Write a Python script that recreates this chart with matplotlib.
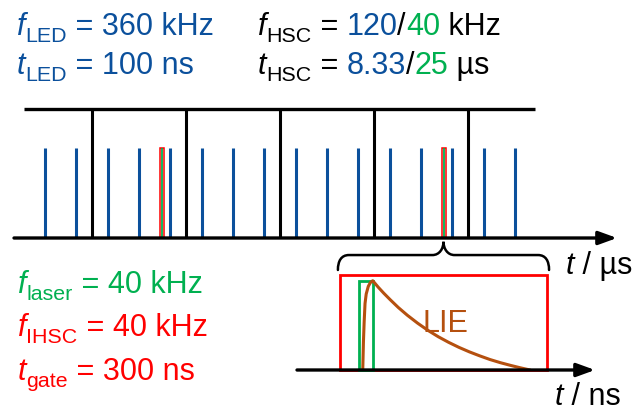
import matplotlib
matplotlib.use("Agg")
from matplotlib import pyplot as plt
from matplotlib.patches import Rectangle, PathPatch
from matplotlib.path import Path

plt.rcParams['font.family'] = ['Liberation Sans', 'DejaVu Sans']

BLUE = '#0B509C'
GREEN = '#00B050'
RED = '#FF0000'
BROWN = '#B5500F'

# time line in µs
hsc_frames = [0.0, 8.33, 16.67, 25.0, 33.33]
led_pulses = [-4.17, -1.39, 1.39, 4.17, 6.94, 9.72, 12.5, 15.28, 18.06,
              20.83, 23.61, 26.39, 29.17, 31.94, 34.72, 37.5]
laser_pulses = [6.2, 31.2]
t_gate_us = 0.3

# zoom on one gate, in ns
gate_ns = [0, 300]
laser_ns = [27.5, 47.8]
lie_t = [33, 34, 35, 36.3, 38, 41, 44, 47.5, 55.5, 63.5, 72.5, 84.5, 97.5,
         112.5, 127.5, 142.5, 157.5, 172.5, 187.5, 202.5, 217.5, 232.5,
         247.5, 261.5, 275.5]
lie_y = [0, 0.3, 0.5, 0.7, 0.8, 0.88, 0.92, 0.94, 0.871, 0.808, 0.742, 0.658,
         0.577, 0.493, 0.417, 0.350, 0.291, 0.238, 0.191, 0.149, 0.110, 0.077,
         0.048, 0.023, 0.0]

W, H = 644, 411
fig = plt.figure(figsize=(W / 100, H / 100), dpi=100)


def arrow(ax, x0, x1, lw=2.4):
    ax.annotate('', xy=(x1, 0), xytext=(x0, 0), annotation_clip=False,
                arrowprops=dict(arrowstyle='-|>,head_length=0.55,head_width=0.2',
                                lw=lw, color='black', mutation_scale=20,
                                shrinkA=0, shrinkB=0), zorder=5)


# --- upper timeline ---
ax = fig.add_axes([14 / W, 1 - 238 / H, 603 / W, 129 / H])
ax.set_xlim(-6.92, 46.54)
ax.set_ylim(0, 1)
ax.axis('off')
pulse_h = 0.70
ax.vlines(led_pulses, 0, pulse_h, color=BLUE, lw=2.2)
ax.vlines(hsc_frames, 0, 1, color='black', lw=2.2, clip_on=False)
ax.hlines(1, -6.03, 39.27, color='black', lw=2.4, clip_on=False)
for t in laser_pulses:
    ax.add_patch(Rectangle((t - t_gate_us / 2, 0), t_gate_us, pulse_h,
                           fill=False, ec=RED, lw=1.1))
    ax.vlines(t, 0, pulse_h, color=GREEN, lw=1.3)
arrow(ax, -6.92, 46.54)

# --- zoomed gate ---
bx = fig.add_axes([297 / W, 1 - 370 / H, 298 / W, 95 / H])
bx.set_xlim(-62.3, 369.6)
bx.set_ylim(0, 1)
bx.axis('off')
bx.add_patch(Rectangle((gate_ns[0], 0), gate_ns[1] - gate_ns[0], 1,
                       fill=False, ec=RED, lw=2.0, clip_on=False))
bx.add_patch(Rectangle((laser_ns[0], 0), laser_ns[1] - laser_ns[0], 0.94,
                       fill=False, ec=GREEN, lw=2.0, clip_on=False))
bx.plot(lie_t, lie_y, color=BROWN, lw=2.2, solid_capstyle='round',
        solid_joinstyle='round')
arrow(bx, -62.3, 369.6)


def brace(ax, x0, x1, y_end, y_mid, y_tip, r):
    xm = (x0 + x1) / 2
    verts = [(x0, y_end), (x0, y_mid - 0.4 * (y_mid - y_end)), (x0 + 0.3 * r, y_mid), (x0 + r, y_mid),
             (xm - r, y_mid),
             (xm - 0.35 * r, y_mid), (xm, y_tip - 0.5 * (y_tip - y_mid)), (xm, y_tip),
             (xm, y_tip - 0.5 * (y_tip - y_mid)), (xm + 0.35 * r, y_mid), (xm + r, y_mid),
             (x1 - r, y_mid),
             (x1 - 0.3 * r, y_mid), (x1, y_mid - 0.4 * (y_mid - y_end)), (x1, y_end)]
    codes = [Path.MOVETO, Path.CURVE4, Path.CURVE4, Path.CURVE4,
             Path.LINETO,
             Path.CURVE4, Path.CURVE4, Path.CURVE4,
             Path.CURVE4, Path.CURVE4, Path.CURVE4,
             Path.LINETO,
             Path.CURVE4, Path.CURVE4, Path.CURVE4]
    ax.add_patch(PathPatch(Path(verts, codes), fill=False, ec='black',
                           lw=1.8, clip_on=False, capstyle='round'))


brace(bx, gate_ns[0] - 3, gate_ns[1] + 3, 1.053, 1.21, 1.35, 16)

# --- labels (pixel coordinates) ---
ov = fig.add_axes([0, 0, 1, 1], zorder=10)
ov.set_xlim(0, W)
ov.set_ylim(H, 0)
ov.axis('off')
ov.patch.set_alpha(0)
renderer = fig.canvas.get_renderer()
SIZE = 22


def write(x, y, parts, size=SIZE):
    for s, color, kind in parts:
        if kind == 'sub':
            t = ov.text(x, y + 7, s, color=color, fontsize=size * 0.7,
                        va='baseline', ha='left')
        elif kind == 'it':
            t = ov.text(x, y, s, color=color, fontsize=size, style='italic',
                        va='baseline', ha='left')
        else:
            t = ov.text(x, y, s, color=color, fontsize=size,
                        va='baseline', ha='left')
        x += t.get_window_extent(renderer).width


write(17, 35, [('f', BLUE, 'it'), ('LED', BLUE, 'sub'), (' = 360 kHz', BLUE, 'rm')])
write(17, 74, [('t', BLUE, 'it'), ('LED', BLUE, 'sub'), (' = 100 ns', BLUE, 'rm')])
write(258, 35, [('f', 'black', 'it'), ('HSC', 'black', 'sub'), (' = ', 'black', 'rm'),
                ('120', BLUE, 'rm'), ('/', 'black', 'rm'), ('40', GREEN, 'rm'),
                (' kHz', 'black', 'rm')])
write(258, 74, [('t', 'black', 'it'), ('HSC', 'black', 'sub'), (' = ', 'black', 'rm'),
                ('8.33', BLUE, 'rm'), ('/', 'black', 'rm'), ('25', GREEN, 'rm'),
                (' µs', 'black', 'rm')])
write(18, 293, [('f', GREEN, 'it'), ('laser', GREEN, 'sub'), (' = 40 kHz', GREEN, 'rm')])
write(18, 336, [('f', RED, 'it'), ('IHSC', RED, 'sub'), (' = 40 kHz', RED, 'rm')])
write(18, 380, [('t', RED, 'it'), ('gate', RED, 'sub'), (' = 300 ns', RED, 'rm')])
write(423, 332, [('LIE', BROWN, 'rm')])
write(566, 274, [('t', 'black', 'it'), (' / µs', 'black', 'rm')])
write(555, 405, [('t', 'black', 'it'), (' / ns', 'black', 'rm')])

fig.savefig('out.png', dpi=100)
